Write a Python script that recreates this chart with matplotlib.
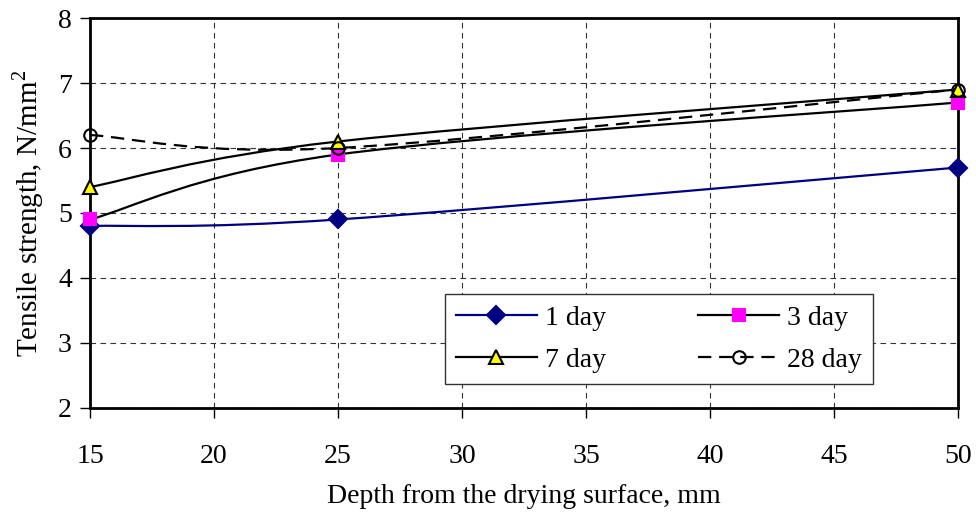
import matplotlib
matplotlib.use("Agg")
import matplotlib.pyplot as plt
from matplotlib.path import Path
from matplotlib.patches import PathPatch
from matplotlib.lines import Line2D

plt.rcParams['font.family'] = ['Liberation Serif', 'DejaVu Serif']
plt.rcParams['mathtext.fontset'] = 'custom'
plt.rcParams['mathtext.rm'] = 'Liberation Serif'

# depth from drying surface (mm) and tensile strength (N/mm2)
depth = [15, 25, 50]
day1 = [4.8, 4.9, 5.7]
day3 = [4.9, 5.9, 6.7]
day7 = [5.4, 6.1, 6.9]
day28 = [6.2, 6.0, 6.9]

labels = ['1 day', '3 day', '7 day', '28 day']


def smooth_path(xs, ys):
    # Excel-style smoothed line: cubic bezier segments through the points
    pts = list(zip(xs, ys))
    verts = [pts[0]]
    codes = [Path.MOVETO]
    n = len(pts)
    for i in range(n - 1):
        p0 = pts[max(i - 1, 0)]
        p1 = pts[i]
        p2 = pts[i + 1]
        p3 = pts[min(i + 2, n - 1)]
        c1 = (p1[0] + (p2[0] - p0[0]) / 6, p1[1] + (p2[1] - p0[1]) / 6)
        c2 = (p2[0] - (p3[0] - p1[0]) / 6, p2[1] - (p3[1] - p1[1]) / 6)
        verts += [c1, c2, p2]
        codes += [Path.CURVE4] * 3
    return Path(verts, codes)


fig = plt.figure(figsize=(9.76, 5.19), dpi=100)
ax = fig.add_axes([0.0922, 0.2139, 0.8894, 0.7514])

styles = [
    dict(color='#000080', ls='-', marker='D', mfc='#000080', mec='#000080', ms=9),
    dict(color='black', ls='-', marker='s', mfc='#FF00FF', mec='#FF00FF', ms=9),
    dict(color='black', ls='-', marker='^', mfc='#FFFF00', mec='black', ms=10),
    dict(color='black', ls=(0, (6, 3.5)), marker='o', mfc='none', mec='black', ms=9),
]

handles = []
for ys, st, lab in zip([day1, day3, day7, day28], styles, labels):
    patch = PathPatch(smooth_path(depth, ys), fill=False, edgecolor=st['color'],
                      lw=1.6, linestyle=st['ls'], zorder=3)
    ax.add_patch(patch)
    ax.plot(depth, ys, ls='none', marker=st['marker'], ms=st['ms'],
            mfc=st['mfc'], mec=st['mec'], mew=1.5, zorder=4, clip_on=False)
    handles.append(Line2D([], [], color=st['color'], ls=st['ls'], lw=1.6,
                          marker=st['marker'], ms=st['ms'], mfc=st['mfc'],
                          mec=st['mec'], mew=1.5))

ax.set_xlim(15, 50)
ax.set_ylim(2, 8)
ax.set_xticks(range(15, 51, 5))
ax.set_yticks(range(2, 9))
ax.grid(True, color='#333333', ls=(0, (5, 4)), lw=0.8)
ax.set_axisbelow(True)

for sp in ax.spines.values():
    sp.set_linewidth(2)
ax.tick_params(direction='out', length=7, width=1, labelsize=20)
ax.tick_params(axis='x', pad=19)
ax.tick_params(axis='y', pad=6)

ax.set_xlabel('Depth from the drying surface, mm', fontsize=20, labelpad=11)
ax.set_ylabel(r'Tensile strength, N/mm$^\mathrm{2}$', fontsize=21, labelpad=9)

# legend filled row by row: 1 day, 3 day / 7 day, 28 day
order = [0, 2, 1, 3]
leg = ax.legend([handles[i] for i in order], [labels[i] for i in order],
                ncol=2, fontsize=20, loc='lower left',
                bbox_to_anchor=(0.409, 0.062, 0.493, 0.233), mode='expand',
                borderaxespad=0, handlelength=2.9, borderpad=0.4,
                labelspacing=0.6, columnspacing=1.5, handletextpad=0.3,
                fancybox=False, framealpha=1, edgecolor='#333333')
leg.get_frame().set_linewidth(1)

fig.savefig('out.png', dpi=100)
